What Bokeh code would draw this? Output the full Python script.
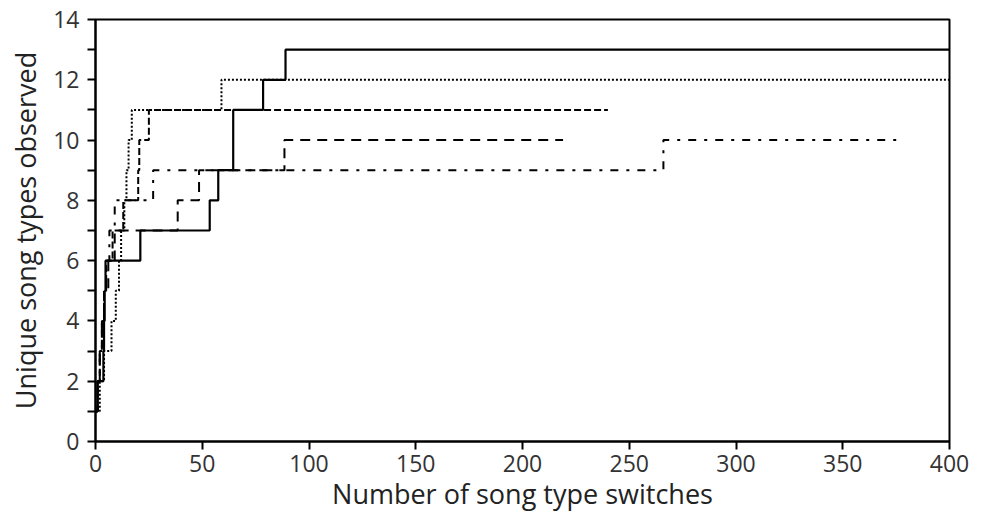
from bokeh.plotting import figure
from bokeh.models import Range1d, FixedTicker
from bokeh.embed import file_html
from bokeh.resources import INLINE

# --- data ---
solid_x = [0, 1, 3.7, 4.0, 4.3, 4.7, 21, 53.5, 57.5, 64.5, 78.5, 89, 400]
solid_y = [1, 2, 3, 4, 5, 6, 7, 8, 9, 11, 12, 13, 13]

dotted_x = [0, 2, 4, 7.5, 9.5, 11, 12, 13.5, 14.5, 15.5, 17, 59, 400]
dotted_y = [1, 2, 3, 4, 5, 6, 7, 8, 9, 10, 11, 12, 12]

dashed_x = [0, 1, 2, 3, 4, 5, 8, 13, 20, 20.5, 25, 240]
dashed_y = [1, 2, 3, 4, 5, 6, 7, 8, 9, 10, 11, 11]

longdash_x = [0, 1, 2, 3, 4, 6, 9, 38.5, 48.5, 88.5, 219]
longdash_y = [1, 2, 3, 4, 5, 6, 7, 8, 9, 10, 10]

dashdot_x = [0, 1, 2, 3, 4, 5, 6.5, 9, 27, 266, 378]
dashdot_y = [1, 2, 3, 4, 5, 6, 7, 8, 9, 10, 10]

x_ticks = [0, 50, 100, 150, 200, 250, 300, 350, 400]
y_ticks = [0, 2, 4, 6, 8, 10, 12, 14]
y_minor = [1, 3, 5, 7, 9, 11, 13]

FONT = "Open Sans"

p = figure(width=973, height=515, output_backend="svg", toolbar_location=None,
           x_range=Range1d(0, 400), y_range=Range1d(0, 14),
           min_border_left=95, min_border_right=24, min_border_top=19, min_border_bottom=74)

p.background_fill_color = "white"
p.border_fill_color = "white"
p.outline_line_color = "black"
p.outline_line_width = 2
p.xgrid.visible = False
p.ygrid.visible = False

p.step(dashdot_x, dashdot_y, mode="after", line_color="black", line_width=2, line_dash="8 8 3 8")
p.step(longdash_x, longdash_y, mode="after", line_color="black", line_width=2, line_dash="10 7")
p.step(dashed_x, dashed_y, mode="after", line_color="black", line_width=2, line_dash="7 3")
p.step(dotted_x, dotted_y, mode="after", line_color="black", line_width=2, line_dash="2 2")
p.step(solid_x, solid_y, mode="after", line_color="black", line_width=2.2)

for ax in (p.xaxis[0], p.yaxis[0]):
    ax.axis_line_color = "black"
    ax.axis_line_width = 2
    ax.major_tick_line_color = "black"
    ax.major_tick_line_width = 2
    ax.minor_tick_line_color = "black"
    ax.minor_tick_line_width = 2
    ax.major_tick_in = 0
    ax.major_tick_out = 8
    ax.minor_tick_in = 0
    ax.minor_tick_out = 8
    ax.major_label_text_font = FONT
    ax.major_label_text_font_size = "23px"
    ax.major_label_text_color = "#333333"
    ax.axis_label_text_font = FONT
    ax.axis_label_text_font_size = "27px"
    ax.axis_label_text_font_style = "normal"
    ax.axis_label_text_color = "#222222"

p.xaxis.ticker = FixedTicker(ticks=x_ticks)
p.yaxis.ticker = FixedTicker(ticks=y_ticks, minor_ticks=y_minor)
p.xaxis.axis_label = "Number of song type switches"
p.yaxis.axis_label = "Unique song types observed"
p.xaxis.major_label_standoff = 5
p.yaxis.major_label_standoff = 8
p.xaxis.axis_label_standoff = 0
p.yaxis.axis_label_standoff = 6

open("out.html", "w").write(file_html(p, INLINE))
